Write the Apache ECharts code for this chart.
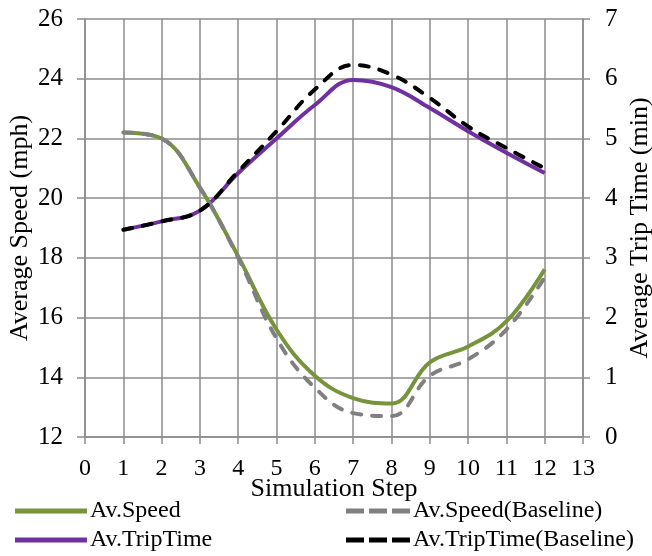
<!DOCTYPE html>
<html><head><meta charset="utf-8">
<script src="https://cdn.jsdelivr.net/npm/echarts@6/dist/echarts.min.js"></script>
<style>html,body{margin:0;padding:0;background:#fff}#c{width:652px;height:556px}</style>
</head><body><div id="c"></div>
<script>
const steps = [1,2,3,4,5,6,7,8,9,10,11,12];
const avSpeed = [22.2,22.0,20.35,18.05,15.6,14.05,13.3,13.12,14.5,15.03,15.87,17.62];
const avSpeedBase = [22.2,22.0,20.35,18.0,15.3,13.65,12.8,12.7,14.05,14.6,15.6,17.35];
const avTrip = [3.47,3.61,3.79,4.42,5.0,5.56,5.98,5.86,5.51,5.12,4.76,4.42];
const avTripBase = [3.47,3.61,3.79,4.45,5.12,5.82,6.23,6.07,5.68,5.2,4.84,4.5];
const names = ['Av.Speed','Av.Speed(Baseline)','Av.TripTime','Av.TripTime(Baseline)'];
const pairs = a => steps.map((s,i)=>[s,a[i]]);
const font = 'Liberation Serif';
const gridColor = '#8c8c8c';
const chart = echarts.init(document.getElementById('c'));
const mk = (name, data, yi, color, dashed) => ({
  name, type:'line', yAxisIndex: yi, data: pairs(data), smooth: 0.4, symbol:'none',
  lineStyle:{color, width:4, type: dashed ? [9,11] : 'solid', cap: dashed ? 'round':'butt'},
  itemStyle:{color}, z: dashed ? 3 : 2
});
const solidIcon = 'rect';
const dashIcon = 'path://M0,0h18v5h-18z M23,0h18v5h-18z M46,0h18v5h-18z';
const lg = (name, left, top, icon, w) => ({
  data:[{name, icon}], orient:'horizontal', left, top, itemWidth:w, itemHeight:5, itemGap:0,
  padding:0, textStyle:{fontFamily:font,fontSize:24,color:'#000',padding:[0,0,0,-2]}
});
chart.setOption({
  animation:false,
  textStyle:{fontFamily:font},
  grid:{left:85,right:69,top:19,bottom:119,outerBoundsMode:'none',containLabel:false},
  xAxis:{type:'value',min:0,max:13,interval:1,
    name:'Simulation Step',nameLocation:'middle',nameGap:39,nameMoveOverlap:false,
    nameTextStyle:{fontFamily:font,fontSize:26,color:'#000'},
    axisLine:{show:true,lineStyle:{color:gridColor,width:1.5}},
    axisTick:{show:true,inside:false,length:7,lineStyle:{color:gridColor,width:1.5}},
    axisLabel:{fontFamily:font,fontSize:24,color:'#000',margin:20},
    splitLine:{show:true,lineStyle:{color:gridColor,width:1.5}}},
  yAxis:[
    {type:'value',min:12,max:26,interval:2,position:'left',
     name:'Average Speed (mph)',nameLocation:'middle',nameGap:52,nameMoveOverlap:false,
     nameTextStyle:{fontFamily:font,fontSize:26,color:'#000'},
     axisLine:{show:true,lineStyle:{color:gridColor,width:1.5}},
     axisTick:{show:true,length:8,lineStyle:{color:gridColor,width:1.5}},
     axisLabel:{fontFamily:font,fontSize:25,color:'#000',margin:22},
     splitLine:{show:true,lineStyle:{color:gridColor,width:1.5}}},
    {type:'value',min:0,max:7,interval:1,position:'right',
     name:'Average Trip Time (min)',nameLocation:'middle',nameGap:44,nameRotate:90,nameMoveOverlap:false,
     nameTextStyle:{fontFamily:font,fontSize:26,color:'#000'},
     axisLine:{show:true,lineStyle:{color:gridColor,width:1.5}},
     axisTick:{show:true,length:7,lineStyle:{color:gridColor,width:1.5}},
     axisLabel:{fontFamily:font,fontSize:25,color:'#000',margin:22},
     splitLine:{show:false}}
  ],
  legend:[
    lg(names[0],15,499,solidIcon,72),
    lg(names[2],15,528,solidIcon,72),
    lg(names[1],346,499,dashIcon,64),
    lg(names[3],346,528,dashIcon,64)
  ],
  series:[
    mk(names[0],avSpeed,0,'#77933C',false),
    mk(names[1],avSpeedBase,0,'#808080',true),
    mk(names[2],avTrip,1,'#7030A0',false),
    mk(names[3],avTripBase,1,'#000000',true)
  ]
});
</script></body></html>
